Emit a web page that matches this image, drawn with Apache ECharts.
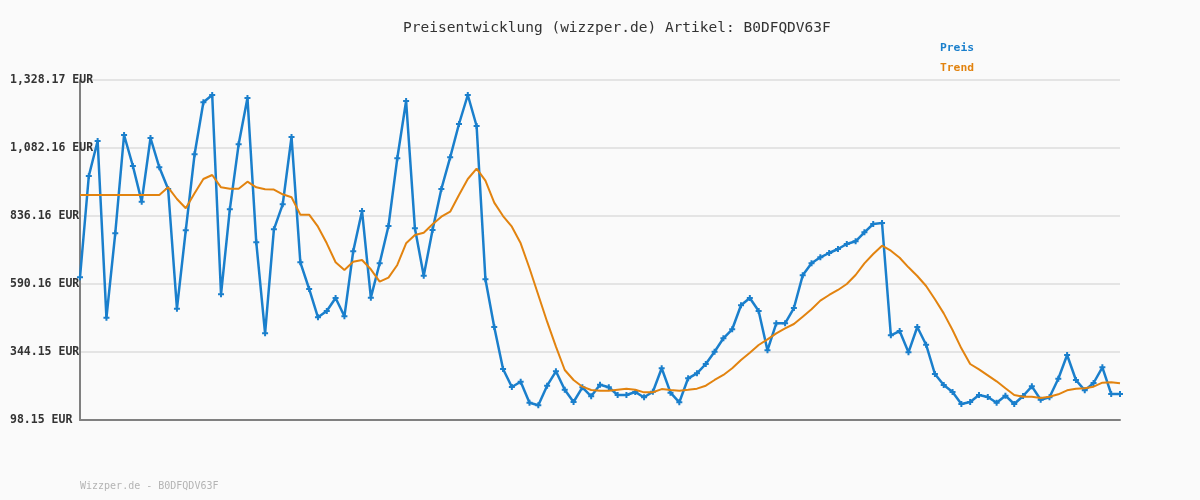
<!DOCTYPE html>
<html>
<head>
<meta charset="utf-8">
<script src="https://cdn.jsdelivr.net/npm/echarts@6/dist/echarts.min.js"></script>
<style>
  html, body { margin: 0; padding: 0; background: #fafafa; }
  #chart { width: 1200px; height: 500px; }
</style>
</head>
<body>
<div id="chart"></div>
<script>
// ---- data ----
const preis = [614.4, 980.9, 1107.5, 468.3, 773.5, 1129.2, 1017.1, 888.0, 1118.3, 1012.3,
  933.8, 500.8, 784.4, 1059.4, 1247.5, 1273.9, 552.9, 860.4, 1095.5, 1263.1,
  741.0, 411.8, 788.0, 878.5, 1121.9, 668.7, 572.1, 469.6, 492.5, 539.5,
  473.3, 708.5, 854.3, 540.7, 665.1, 800.0, 1044.9, 1252.2, 791.6, 620.2,
  785.5, 933.8, 1048.5, 1169.0, 1273.9, 1161.8, 607.2, 434.6, 282.6, 217.6,
  236.7, 160.8, 151.3, 222.3, 274.3, 207.8, 163.3, 216.4, 183.9, 225.9,
  216.4, 188.6, 188.6, 199.4, 180.2, 200.5, 285.2, 197.0, 162.2, 249.0,
  267.1, 300.7, 345.2, 393.7, 426.3, 513.1, 539.5, 492.5, 350.3, 448.0,
  448.0, 503.3, 621.6, 665.1, 686.7, 702.3, 716.8, 734.9, 744.6, 777.2,
  807.3, 810.8, 404.5, 420.1, 343.0, 434.6, 370.6, 264.6, 224.8, 199.4,
  156.0, 163.3, 188.6, 181.4, 160.8, 186.1, 156.0, 185.0, 220.0, 171.6,
  180.2, 247.6, 333.3, 242.9, 205.4, 232.0, 288.8, 192.3, 192.3];

const trend = [912.1, 912.1, 912.1, 912.1, 912.1, 912.1, 912.1, 912.1, 912.1, 912.1,
  940.0, 897.7, 864.0, 918.2, 970.0, 984.5, 940.0, 935.0, 935.0, 960.3,
  940.0, 932.7, 932.0, 914.7, 903.8, 841.0, 841.0, 797.5, 737.4, 668.7,
  640.8, 670.8, 677.0, 643.3, 598.5, 613.0, 659.0, 737.4, 767.4, 775.8,
  806.0, 833.6, 851.6, 912.1, 970.0, 1007.3, 964.0, 884.4, 836.0, 797.5,
  737.4, 647.0, 550.4, 453.8, 363.4, 279.0, 242.9, 218.7, 206.7, 204.2,
  204.2, 207.8, 211.5, 207.8, 198.2, 198.6, 210.0, 206.7, 204.2, 207.8,
  211.5, 222.3, 242.9, 261.0, 285.2, 315.2, 341.6, 369.5, 389.9, 411.8,
  429.8, 445.5, 471.9, 498.5, 530.0, 550.4, 568.5, 590.2, 622.7, 665.0,
  698.7, 728.8, 710.6, 685.3, 650.5, 619.0, 583.0, 534.8, 484.0, 423.7,
  357.5, 300.7, 281.5, 259.8, 238.1, 213.0, 188.6, 182.6, 182.0, 177.7,
  182.0, 191.0, 205.4, 211.5, 213.0, 218.7, 233.1, 234.3, 231.0];

const yTickLabels = ['98.15', '344.15', '590.16', '836.16', '1,082.16', '1,328.17'];
const Y_MIN = 98.15;
const Y_MAX = 1328.17;
const seriesNames = ['Preis', 'Trend'];
const titleText = 'Preisentwicklung (wizzper.de) Artikel: B0DFQDV63F';
const footerText = 'Wizzper.de - B0DFQDV63F';

// ---- chart ----
const categories = preis.map((_, i) => String(i + 1));
const Y_STEP = (Y_MAX - Y_MIN) / (yTickLabels.length - 1);
const MONO = '"DejaVu Sans Mono", "Liberation Mono", monospace';
const BLUE = '#1a7fcc';
const ORANGE = '#e2830f';

const chart = echarts.init(document.getElementById('chart'), null, { renderer: 'canvas' });
chart.setOption({
  backgroundColor: '#fafafa',
  animation: false,
  title: {
    text: titleText,
    left: 398,
    top: 16,
    textStyle: { fontFamily: MONO, fontSize: 14.5, fontWeight: 'normal', color: '#333' }
  },
  legend: {
    orient: 'vertical',
    left: 929,
    top: 37,
    itemWidth: 0,
    itemHeight: 0,
    itemGap: 8,
    selectedMode: false,
    data: [
      { name: seriesNames[0], textStyle: { color: BLUE } },
      { name: seriesNames[1], textStyle: { color: ORANGE } }
    ],
    textStyle: { fontFamily: MONO, fontSize: 11.3, fontWeight: 'bold', lineHeight: 12 }
  },
  grid: { left: 80, right: 80, top: 80, bottom: 80, containLabel: false },
  xAxis: {
    type: 'category',
    data: categories,
    boundaryGap: false,
    axisLine: { show: true, lineStyle: { color: '#808080', width: 2 } },
    axisTick: { show: false },
    axisLabel: { show: false },
    splitLine: { show: false }
  },
  yAxis: {
    type: 'value',
    min: 0,
    max: Y_MAX - Y_MIN,
    interval: Y_STEP,
    axisLine: { show: true, lineStyle: { color: '#808080', width: 2 } },
    axisTick: { show: false },
    splitLine: { show: true, lineStyle: { color: '#e4e4e4', width: 2 } },
    axisLabel: {
      align: 'left',
      margin: 70,
      fontFamily: MONO,
      fontSize: 11.5,
      fontWeight: 'bold',
      color: '#333',
      formatter: v => yTickLabels[Math.round(v / Y_STEP)] + ' EUR'
    }
  },
  graphic: [{
    type: 'text',
    left: 80,
    top: 481,
    style: { text: footerText, font: '10px ' + MONO, fill: '#b4b4b4' }
  }],
  series: [
    {
      name: seriesNames[0],
      type: 'line',
      data: preis.map(v => v - Y_MIN),
      symbol: 'path://M2,0H4V2H6V4H4V6H2V4H0V2H2Z',
      symbolSize: 6,
      showSymbol: true,
      showAllSymbol: true,
      itemStyle: { color: BLUE },
      lineStyle: { color: BLUE, width: 2.5 },
      z: 2
    },
    {
      name: seriesNames[1],
      type: 'line',
      data: trend.map(v => v - Y_MIN),
      showSymbol: false,
      symbol: 'none',
      itemStyle: { color: ORANGE },
      lineStyle: { color: ORANGE, width: 2 },
      z: 3
    }
  ]
});
</script>
</body>
</html>
